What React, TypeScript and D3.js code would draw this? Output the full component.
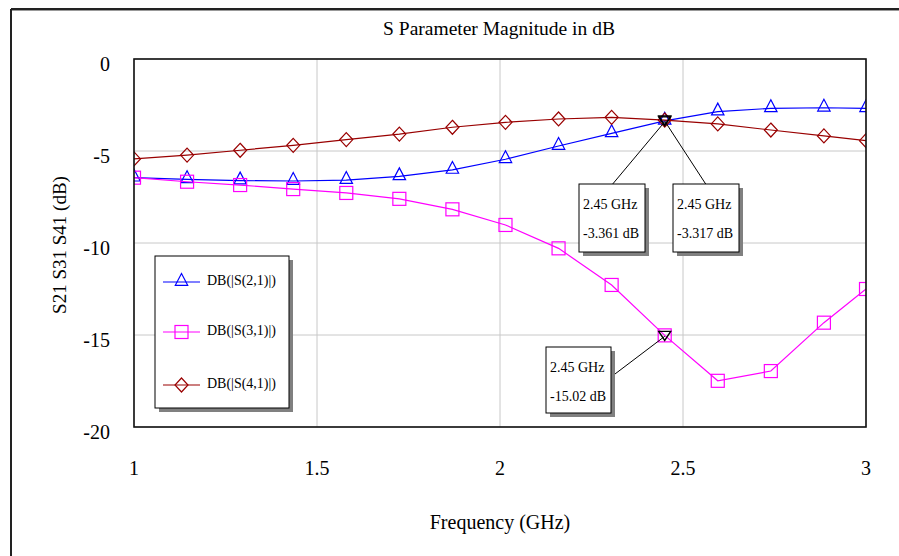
import React, { useEffect } from "react";
import * as d3 from "d3";

const freqs = [1, 1.145, 1.29, 1.435, 1.58, 1.725, 1.87, 2.015, 2.16, 2.305, 2.45, 2.595, 2.74, 2.885, 3.0];
const s21 = [-6.45, -6.54, -6.61, -6.63, -6.58, -6.38, -6.03, -5.45, -4.73, -4.04, -3.361, -2.86, -2.68, -2.65, -2.68];
const s31 = [-6.45, -6.67, -6.85, -7.07, -7.28, -7.6, -8.17, -9.02, -10.29, -12.28, -15.02, -17.49, -16.96, -14.33, -12.5];
const s41 = [-5.43, -5.22, -4.96, -4.69, -4.38, -4.08, -3.71, -3.44, -3.26, -3.17, -3.317, -3.53, -3.86, -4.18, -4.44];

const seriesNames = ["DB(|S(2,1)|)", "DB(|S(3,1)|)", "DB(|S(4,1)|)"];
const seriesColors = ["#0000ff", "#ff00ff", "#990000"];
const seriesShapes = ["triangle", "square", "diamond"];

const xTicks = [1, 1.5, 2, 2.5, 3];
const yTicks = [0, -5, -10, -15, -20];

const markerFreq = 2.45;
const markerLabels = [
  { series: 0, freq: "2.45 GHz", val: "-3.361 dB" },
  { series: 2, freq: "2.45 GHz", val: "-3.317 dB" },
  { series: 1, freq: "2.45 GHz", val: "-15.02 dB" },
];

const W = 899;
const H = 556;
const FONT = "Liberation Serif";

function Marker({ shape, x, y, color }: { shape: string; x: number; y: number; color: string }) {
  if (shape === "triangle") {
    return <path d={`M${x},${y - 8.5} L${x + 6.2},${y + 3.3} L${x - 6.2},${y + 3.3} Z`} fill="none" stroke={color} strokeWidth={1.2} />;
  }
  if (shape === "square") {
    return <rect x={x - 6.5} y={y - 6.5} width={13} height={13} fill="none" stroke={color} strokeWidth={1.2} />;
  }
  return <path d={`M${x},${y - 7} L${x + 6.5},${y} L${x},${y + 7} L${x - 6.5},${y} Z`} fill="none" stroke={color} strokeWidth={1.2} />;
}

export default function App() {
  useEffect(() => {
    document.body.style.margin = "0";
  }, []);

  const x = d3.scaleLinear().domain([1, 3]).range([134, 866]);
  const y = d3.scaleLinear().domain([-20, 0]).range([427, 59]);
  const data = [s21, s31, s41];
  const line = d3
    .line<number>()
    .x((_, i) => x(freqs[i]))
    .y((d) => y(d))
    .curve(d3.curveLinear);

  const mIdx = freqs.indexOf(markerFreq);
  const mx = x(markerFreq);

  const boxes = [
    { bx: 579, by: 184, bw: 66, bh: 68, lx: 612.7, ly: 184 },
    { bx: 673, by: 184, bw: 66, bh: 68, lx: 705.7, ly: 184 },
    { bx: 546, by: 347, bw: 65, bh: 66, lx: 611, ly: 377 },
  ];

  return (
    <svg width={W} height={H} style={{ display: "block" }} fontFamily={FONT}>
      <rect x={0} y={0} width={W} height={H} fill="#fff" />
      <line x1={11} y1={9} x2={W} y2={9} stroke="#222" strokeWidth={2} />
      <line x1={11} y1={9} x2={11} y2={H} stroke="#222" strokeWidth={2} />
      <line x1={12} y1={10.5} x2={W} y2={10.5} stroke="#999" strokeWidth={1} />

      <text x={499} y={31} textAnchor="middle" dominantBaseline="middle" fontSize={19.5}>
        S Parameter Magnitude in dB
      </text>

      <defs>
        <clipPath id="plotClip">
          <rect x={134} y={59} width={732} height={368} />
        </clipPath>
      </defs>

      {xTicks.map((t) => (
        <line key={"gx" + t} x1={x(t)} x2={x(t)} y1={59} y2={427} stroke="#c8c8c8" strokeWidth={1} />
      ))}
      {yTicks.map((t) => (
        <line key={"gy" + t} x1={134} x2={866} y1={y(t)} y2={y(t)} stroke="#c8c8c8" strokeWidth={1} />
      ))}

      {yTicks.map((t) => (
        <text key={"ty" + t} x={110} y={y(t) + 7} textAnchor="end" dominantBaseline="middle" fontSize={20}>
          {t === 0 ? "0" : String(t)}
        </text>
      ))}
      {xTicks.map((t) => (
        <text key={"tx" + t} x={x(t)} y={470} textAnchor="middle" dominantBaseline="middle" fontSize={20}>
          {String(t)}
        </text>
      ))}

      <text x={500} y={524} textAnchor="middle" dominantBaseline="middle" fontSize={20}>
        Frequency (GHz)
      </text>
      <text
        transform={`translate(62,245) rotate(-90)`}
        textAnchor="middle"
        dominantBaseline="middle"
        fontSize={19}
      >
        S21 S31 S41 (dB)
      </text>

      <g clipPath="url(#plotClip)">
        {data.map((vals, si) => (
          <g key={"s" + si}>
            <path d={line(vals) || ""} fill="none" stroke={seriesColors[si]} strokeWidth={1.2} />
            {vals.map((v, i) => (
              <Marker key={i} shape={seriesShapes[si]} x={x(freqs[i])} y={y(v)} color={seriesColors[si]} />
            ))}
          </g>
        ))}
      </g>

      <rect x={134} y={59} width={732} height={368} fill="none" stroke="#111" strokeWidth={1.6} />

      {markerLabels.map((m, k) => {
        const v = data[m.series][mIdx];
        const py = y(v);
        const b = boxes[k];
        return (
          <g key={"c" + k}>
            <line x1={b.lx} y1={b.ly} x2={mx} y2={py + 1} stroke="#000" strokeWidth={1} />
            <path d={`M${mx - 6},${py - 4} L${mx + 6},${py - 4} L${mx},${py + 5} Z`} fill="none" stroke="#000" strokeWidth={1.4} />
            <rect x={b.bx + 4} y={b.by + 4} width={b.bw} height={b.bh} fill="#808080" />
            <rect x={b.bx} y={b.by} width={b.bw} height={b.bh} fill="#fff" stroke="#000" strokeWidth={1} />
            <text x={b.bx + 4} y={b.by + 22} dominantBaseline="middle" fontSize={14}>
              {m.freq}
            </text>
            <text x={b.bx + 4} y={b.by + 51} dominantBaseline="middle" fontSize={14}>
              {m.val}
            </text>
          </g>
        );
      })}

      <g>
        <rect x={159} y={260} width={134} height={152} fill="#808080" />
        <rect x={155} y={256} width={134} height={152} fill="#fff" stroke="#000" strokeWidth={1} />
        {seriesNames.map((name, i) => {
          const ly = [282, 332, 385][i];
          return (
            <g key={"l" + i}>
              <line x1={163} x2={200} y1={ly} y2={ly} stroke={seriesColors[i]} strokeWidth={1.2} />
              <Marker shape={seriesShapes[i]} x={181.5} y={ly} color={seriesColors[i]} />
              <text x={207} y={ly} dominantBaseline="middle" fontSize={14}>
                {name}
              </text>
            </g>
          );
        })}
      </g>
    </svg>
  );
}
